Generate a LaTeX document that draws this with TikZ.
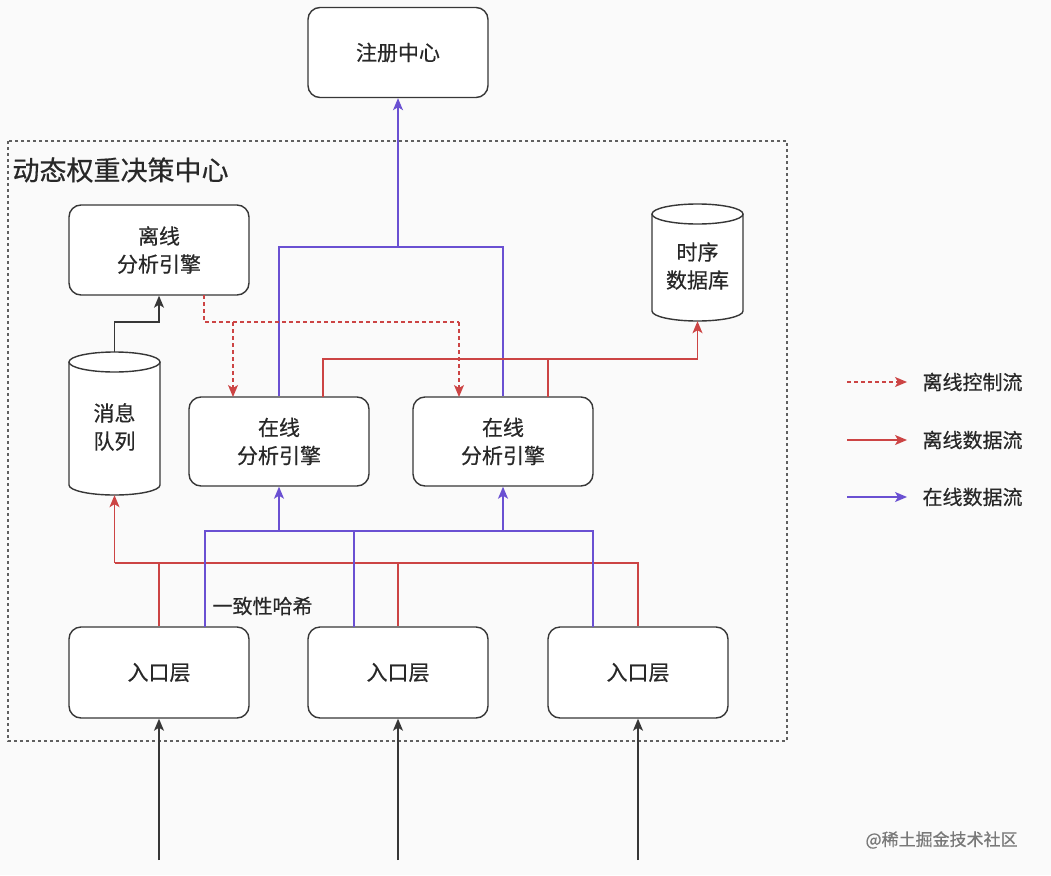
\documentclass[tikz,border=0pt]{standalone}
\usepackage{fontspec}
\setmainfont{Noto Sans CJK SC}[FakeBold=0.5]
\usetikzlibrary{arrows.meta}
\definecolor{purp}{RGB}{106,80,210}
\definecolor{redl}{RGB}{204,68,68}
\definecolor{boxc}{RGB}{55,55,55}
\definecolor{bgc}{RGB}{250,250,250}
\definecolor{txtc}{RGB}{40,40,40}
\definecolor{wmc}{RGB}{120,120,120}
\begin{document}
\begin{tikzpicture}[x=1pt,y=-1pt,
  tip/.style={-{Stealth[length=12pt,width=10pt,inset=3pt]}},
  boxn/.style={draw=boxc,line width=1.4pt,rounded corners=12pt,fill=white,
    minimum width=180pt,minimum height=90pt,align=center,text=txtc,
    font=\fontsize{21}{28}\selectfont},
  cyln/.style={minimum width=91pt,align=center,text=txtc,inner sep=0pt,
    font=\fontsize{21}{28}\selectfont},
  cylline/.style={draw=boxc,line width=1.4pt},
  pline/.style={draw=purp,line width=1.3pt},
  rline/.style={draw=redl,line width=1.3pt},
  rdash/.style={draw=redl,line width=1.3pt,dash pattern=on 4pt off 3pt},
  kline/.style={draw=boxc,line width=1.3pt},
  legtext/.style={anchor=west,text=txtc,font=\fontsize{20}{24}\selectfont},
]
\useasboundingbox (0,0) rectangle (1051,875);
\fill[bgc] (0,0) rectangle (1051,875);

% container
\draw[draw=boxc!80,line width=1.2pt,dash pattern=on 3pt off 3pt] (8,141) rectangle (787,741);
\node[anchor=west,text=txtc,font=\fontsize{27}{30}\selectfont] (title) at (9,170) {动态权重决策中心};

% boxes
\node[boxn] (reg) at (398,52.5) {注册中心};
\node[boxn] (off) at (159,250) {离线\\分析引擎};
\node[boxn,minimum height=89pt] (on1) at (279,441.5) {在线\\分析引擎};
\node[boxn,minimum height=89pt] (on2) at (503,441.5) {在线\\分析引擎};
\node[boxn,minimum height=91pt] (in1) at (159,672.5) {入口层};
\node[boxn,minimum height=91pt] (in2) at (398,672.5) {入口层};
\node[boxn,minimum height=91pt] (in3) at (638,672.5) {入口层};

% cylinders
\fill[white] (69,362) -- (69,485) arc[start angle=180,end angle=0,x radius=45.5,y radius=10] -- (160,362) -- cycle;
\draw[cylline] (69,362) -- (69,485) arc[start angle=180,end angle=0,x radius=45.5,y radius=10] -- (160,362);
\draw[cylline,fill=white] (114.5,362) ellipse[x radius=45.5,y radius=10];
\node[cyln,minimum height=143pt] (mq) at (114.5,423.5) {};
\node[cyln] (mqt) at (114.5,427) {消息\\队列};

\fill[white] (652,214) -- (652,311) arc[start angle=180,end angle=0,x radius=45.5,y radius=10] -- (743,214) -- cycle;
\draw[cylline] (652,214) -- (652,311) arc[start angle=180,end angle=0,x radius=45.5,y radius=10] -- (743,214);
\draw[cylline,fill=white] (697.5,214) ellipse[x radius=45.5,y radius=10];
\node[cyln,minimum height=117pt] (db) at (697.5,262.5) {};
\node[cyln] (dbt) at (697.5,266) {时序\\数据库};

% coordinates
\coordinate (pj1) at (279,247);
\coordinate (pj2) at (503,247);
\coordinate (pjr) at (398,247);
\coordinate (d0) at (204,295);
\coordinate (d1) at (204,322);
\coordinate (d2) at (459,322);
\coordinate (da) at (233,322);
\coordinate (don1) at (233,397);
\coordinate (don2) at (459,397);
\coordinate (k1) at (114.5,322);
\coordinate (k2) at (159,322);
\coordinate (r1) at (323,397);
\coordinate (r1t) at (323,359);
\coordinate (r2) at (548,397);
\coordinate (r2t) at (548,359);
\coordinate (rdb) at (697.5,359);
\coordinate (rb1) at (159,563);
\coordinate (rb2) at (398,563);
\coordinate (rb3) at (638,563);
\coordinate (rbm) at (114.5,563);
\coordinate (pb1) at (205,627);
\coordinate (pb1t) at (205,531);
\coordinate (pb2) at (354,627);
\coordinate (pb2t) at (354,531);
\coordinate (pb3) at (593,627);
\coordinate (pb3t) at (593,531);
\coordinate (pa1) at (279,531);
\coordinate (pa2) at (503,531);
\coordinate (s1) at (159,860);
\coordinate (s2) at (398,860);
\coordinate (s3) at (638,860);

% purple top
\draw[pline] (on1.north) -- (pj1) -- (pj2) -- (on2.north);
\draw[pline,tip] (pjr) -- (reg.south);

% dashed offline control
\draw[rdash] (d0) -- (d1) -- (d2);
\draw[rdash,tip] (d2) -- (don2);
\draw[rdash,tip] (da) -- (don1);

% black mq -> offline
\draw[kline,tip] (mq.north) -- (k1) -- (k2) -- (off.south);

% red data to db
\draw[rline] (r1) -- (r1t) -- (rdb);
\draw[rline] (r2) -- (r2t);
\draw[rline,tip] (rdb) -- (db.south);

% bottom red
\draw[rline] (in1.north) -- (rb1);
\draw[rline] (in2.north) -- (rb2);
\draw[rline] (in3.north) -- (rb3) -- (rbm);
\draw[rline,tip] (rbm) -- (mq.south);

% bottom purple
\draw[pline] (pb1) -- (pb1t) -- (pb3t) -- (pb3);
\draw[pline] (pb2) -- (pb2t);
\draw[pline,tip] (pa1) -- (on1.south);
\draw[pline,tip] (pa2) -- (on2.south);

\node[anchor=west,text=txtc,font=\fontsize{20}{24}\selectfont] (hash) at (209,606) {一致性哈希};

% entry arrows
\draw[kline,tip] (s1) -- (in1.south);
\draw[kline,tip] (s2) -- (in2.south);
\draw[kline,tip] (s3) -- (in3.south);

% legend
\coordinate (l1a) at (847,382); \coordinate (l1b) at (907,382);
\coordinate (l2a) at (847,440); \coordinate (l2b) at (907,440);
\coordinate (l3a) at (847,497); \coordinate (l3b) at (907,497);
\draw[rdash,tip] (l1a) -- (l1b);
\draw[rline,tip] (l2a) -- (l2b);
\draw[pline,tip] (l3a) -- (l3b);
\node[legtext] (lt1) at (919,382) {离线控制流};
\node[legtext] (lt2) at (919,440) {离线数据流};
\node[legtext] (lt3) at (919,497) {在线数据流};

\node[anchor=west,text=wmc,font=\fontsize{17}{20}\selectfont] (wm) at (862,840) {@稀土掘金技术社区};
\end{tikzpicture}
\end{document}
